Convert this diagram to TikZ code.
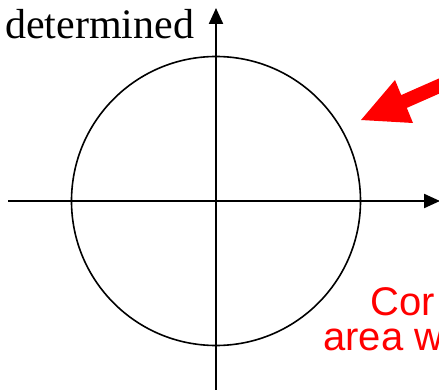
\documentclass[tikz,border=0pt]{standalone}
\usepackage{fontspec}
\setmainfont{Liberation Serif}
\newfontfamily\arialfont{Liberation Sans}
\usetikzlibrary{arrows.meta}
\begin{document}
\begin{tikzpicture}[x=1pt,y=-1pt,
  axis/.style={line width=2.2pt,-{Triangle[length=16pt,width=14pt]}},
  lbl/.style={inner sep=0pt,anchor=base west},
  redtxt/.style={lbl,text=red,font=\arialfont\fontsize{40}{40}\selectfont}]
\useasboundingbox (0,0) rectangle (439,390);
\clip (0,0) rectangle (439,390);
% circle
\node[circle,draw,line width=1.6pt,minimum size=289pt,inner sep=0pt] (c) at (216,201) {};
% axes
\coordinate (xl) at (8,201);
\coordinate (xr) at (440,201);
\coordinate (yb) at (216,392);
\coordinate (yt) at (216,8);
\draw[axis] (xl) -- (xr);
\draw[axis] (yb) -- (yt);
% label
\node[lbl,font=\fontsize{42}{42}\selectfont] (det) at (5,39) {determined};
% red arrow
\fill[red] (361,120) -- (395,80) -- (401.2,95.1) -- (457.2,70.4) -- (462.8,83.2) -- (406.8,107.9) -- (413,123) -- cycle;
% red text
\node[redtxt] (t1) at (370,315) {Cor};
\node[redtxt] (t2) at (323,350) {area w};
\end{tikzpicture}
\end{document}
